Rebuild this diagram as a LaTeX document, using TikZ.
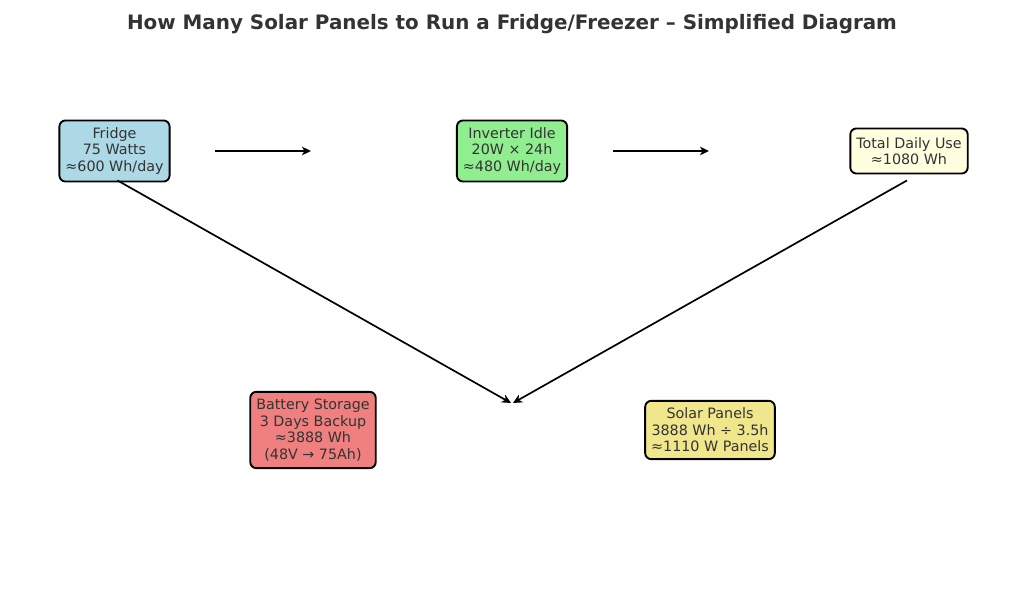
\documentclass[tikz,border=0pt]{standalone}
\usepackage{fontspec}
\setmainfont{DejaVu Sans}
\usetikzlibrary{arrows.meta}
\definecolor{txt}{HTML}{333333}
\definecolor{lblue}{HTML}{ADD8E6}
\definecolor{lgreen}{HTML}{90EE90}
\definecolor{lyellow}{HTML}{FFFFE0}
\definecolor{lcoral}{HTML}{F08080}
\definecolor{lkhaki}{HTML}{F0E68C}
\begin{document}
\begin{tikzpicture}[x=1pt,y=1pt,
  box/.style={draw=black, line width=1.9pt, rounded corners=6pt, align=center,
    inner xsep=6pt, inner ysep=7pt, text=txt,
    font=\fontsize{14.3}{16.6}\selectfont},
  conn/.style={line width=1.7pt, -{Stealth[length=9pt,width=8.5pt,inset=2.5pt]}}]
\useasboundingbox (0,0) rectangle (1024,614);
\node[font=\bfseries\fontsize{19.9}{24}\selectfont, text=txt] (title) at (512,590) {How Many Solar Panels to Run a Fridge/Freezer – Simplified Diagram};
\node[box, fill=lblue] (fridge) at (114.5,463) {Fridge\\75 Watts\\≈600 Wh/day};
\node[box, fill=lgreen] (inv) at (512,463) {Inverter Idle\\20W × 24h\\≈480 Wh/day};
\node[box, fill=lyellow, minimum height=45pt] (total) at (909,463) {Total Daily Use\\≈1080 Wh};
\node[box, fill=lcoral] (batt) at (313,184) {Battery Storage\\3 Days Backup\\≈3888 Wh\\(48V → 75Ah)};
\node[box, fill=lkhaki] (solar) at (710,184) {Solar Panels\\3888 Wh ÷ 3.5h\\≈1110 W Panels};
\coordinate (a1s) at (215,463);
\coordinate (a1e) at (311,463);
\coordinate (a2s) at (613,463);
\coordinate (a2e) at (709,463);
\coordinate (m1) at (511,211);
\coordinate (m2) at (513,211);
\draw[conn] (a1s) -- (a1e);
\draw[conn] (a2s) -- (a2e);
\draw[conn] (fridge.south) ++(3,2) coordinate (fs) (fs) -- (m1);
\draw[conn] (total.south) ++(-2,-6) coordinate (ts) (ts) -- (m2);
\end{tikzpicture}
\end{document}
